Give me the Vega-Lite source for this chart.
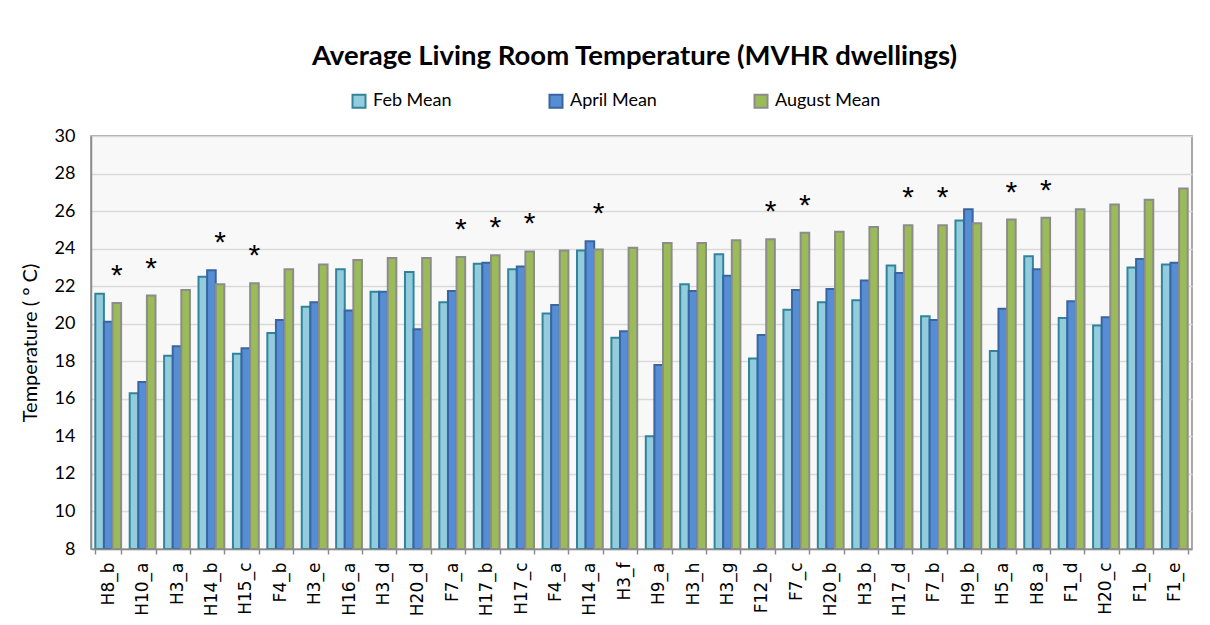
{
  "$schema": "https://vega.github.io/schema/vega-lite/v6.json",
  "width": 1101,
  "height": 413,
  "autosize": {"type": "none"},
  "padding": {"left": 91, "top": 136, "right": 18, "bottom": 76},
  "background": "white",
  "title": {
    "text": "Average Living Room Temperature (MVHR dwellings)",
    "font": "Lato",
    "fontSize": 27.5,
    "fontWeight": "bold",
    "color": "#000000",
    "anchor": "middle",
    "offset": 22,
    "dx": -7
  },
  "data": {
    "values": [
      {"dwelling": "H8_b", "Feb Mean": 21.6, "April Mean": 20.1, "August Mean": 21.1, "sig": true},
      {"dwelling": "H10_a", "Feb Mean": 16.3, "April Mean": 16.9, "August Mean": 21.5, "sig": true},
      {"dwelling": "H3_a", "Feb Mean": 18.3, "April Mean": 18.8, "August Mean": 21.8, "sig": false},
      {"dwelling": "H14_b", "Feb Mean": 22.5, "April Mean": 22.85, "August Mean": 22.1, "sig": true},
      {"dwelling": "H15_c", "Feb Mean": 18.4, "April Mean": 18.7, "August Mean": 22.15, "sig": true},
      {"dwelling": "F4_b", "Feb Mean": 19.5, "April Mean": 20.2, "August Mean": 22.9, "sig": false},
      {"dwelling": "H3_e", "Feb Mean": 20.9, "April Mean": 21.15, "August Mean": 23.15, "sig": false},
      {"dwelling": "H16_a", "Feb Mean": 22.9, "April Mean": 20.7, "August Mean": 23.4, "sig": false},
      {"dwelling": "H3_d", "Feb Mean": 21.7, "April Mean": 21.7, "August Mean": 23.5, "sig": false},
      {"dwelling": "H20_d", "Feb Mean": 22.75, "April Mean": 19.7, "August Mean": 23.5, "sig": false},
      {"dwelling": "F7_a", "Feb Mean": 21.15, "April Mean": 21.75, "August Mean": 23.55, "sig": true},
      {"dwelling": "H17_b", "Feb Mean": 23.2, "April Mean": 23.25, "August Mean": 23.65, "sig": true},
      {"dwelling": "H17_c", "Feb Mean": 22.9, "April Mean": 23.05, "August Mean": 23.85, "sig": true},
      {"dwelling": "F4_a", "Feb Mean": 20.55, "April Mean": 21.0, "August Mean": 23.9, "sig": false},
      {"dwelling": "H14_a", "Feb Mean": 23.9, "April Mean": 24.4, "August Mean": 23.95, "sig": true},
      {"dwelling": "H3_f", "Feb Mean": 19.25, "April Mean": 19.6, "August Mean": 24.05, "sig": false},
      {"dwelling": "H9_a", "Feb Mean": 14.0, "April Mean": 17.8, "August Mean": 24.3, "sig": false},
      {"dwelling": "H3_h", "Feb Mean": 22.1, "April Mean": 21.75, "August Mean": 24.3, "sig": false},
      {"dwelling": "H3_g", "Feb Mean": 23.7, "April Mean": 22.55, "August Mean": 24.45, "sig": false},
      {"dwelling": "F12_b", "Feb Mean": 18.15, "April Mean": 19.4, "August Mean": 24.5, "sig": true},
      {"dwelling": "F7_c", "Feb Mean": 20.75, "April Mean": 21.8, "August Mean": 24.85, "sig": true},
      {"dwelling": "H20_b", "Feb Mean": 21.15, "April Mean": 21.85, "August Mean": 24.9, "sig": false},
      {"dwelling": "H3_b", "Feb Mean": 21.25, "April Mean": 22.3, "August Mean": 25.15, "sig": false},
      {"dwelling": "H17_d", "Feb Mean": 23.1, "April Mean": 22.7, "August Mean": 25.25, "sig": true},
      {"dwelling": "F7_b", "Feb Mean": 20.4, "April Mean": 20.2, "August Mean": 25.25, "sig": true},
      {"dwelling": "H9_b", "Feb Mean": 25.5, "April Mean": 26.1, "August Mean": 25.35, "sig": false},
      {"dwelling": "H5_a", "Feb Mean": 18.55, "April Mean": 20.8, "August Mean": 25.55, "sig": true},
      {"dwelling": "H8_a", "Feb Mean": 23.6, "April Mean": 22.9, "August Mean": 25.65, "sig": true},
      {"dwelling": "F1_d", "Feb Mean": 20.3, "April Mean": 21.2, "August Mean": 26.1, "sig": false},
      {"dwelling": "H20_c", "Feb Mean": 19.9, "April Mean": 20.35, "August Mean": 26.35, "sig": false},
      {"dwelling": "F1_b", "Feb Mean": 23.0, "April Mean": 23.45, "August Mean": 26.6, "sig": false},
      {"dwelling": "F1_e", "Feb Mean": 23.15, "April Mean": 23.25, "August Mean": 27.2, "sig": false}
    ]
  },
  "encoding": {
    "x": {
      "field": "dwelling",
      "type": "nominal",
      "sort": null,
      "scale": {"paddingInner": 0.25, "paddingOuter": 0.125},
      "axis": {
        "title": null,
        "labelAngle": -90,
        "labelAlign": "right",
        "labelBaseline": "middle",
        "labelFont": "DejaVu Sans",
        "labelFontSize": 17,
        "labelColor": "#000000",
        "labelPadding": 8,
        "tickBand": "extent",
        "tickSize": 5,
        "tickColor": "#8c8c8c",
        "tickWidth": 1.5,
        "domainColor": "#8c8c8c",
        "domainWidth": 1.5,
        "grid": false,
        "zindex": 1
      }
    }
  },
  "layer": [
    {
      "transform": [
        {"fold": ["Feb Mean", "April Mean", "August Mean"], "as": ["series", "temp"]}
      ],
      "mark": {"type": "bar", "strokeWidth": 2, "clip": true},
      "encoding": {
        "xOffset": {
          "field": "series",
          "type": "nominal",
          "sort": ["Feb Mean", "April Mean", "August Mean"],
          "scale": {"paddingInner": 0, "paddingOuter": 0}
        },
        "y": {
          "field": "temp",
          "type": "quantitative",
          "scale": {"domain": [8, 30], "zero": false, "nice": false},
          "axis": {
            "title": "Temperature ( ° C)",
            "titleFont": "Lato",
            "titleFontSize": 20,
            "titleFontWeight": "normal",
            "titleColor": "#000000",
            "titlePadding": 14,
            "values": [8, 10, 12, 14, 16, 18, 20, 22, 24, 26, 28, 30],
            "labelOverlap": false,
            "labelFont": "Lato",
            "labelFontSize": 18,
            "labelColor": "#000000",
            "labelPadding": 16,
            "ticks": false,
            "domainColor": "#8c8c8c",
            "domainWidth": 1.5,
            "gridColor": "#d9d9d9",
            "gridWidth": 1.5
          }
        },
        "y2": {"datum": 8},
        "fill": {
          "field": "series",
          "type": "nominal",
          "sort": ["Feb Mean", "April Mean", "August Mean"],
          "scale": {
            "domain": ["Feb Mean", "April Mean", "August Mean"],
            "range": ["#93cddd", "#558ed5", "#9bbb59"]
          },
          "legend": {
            "title": null,
            "orient": "none",
            "direction": "horizontal",
            "legendX": 259,
            "legendY": -44,
            "symbolType": "square",
            "symbolSize": 169,
            "symbolStrokeWidth": 2,
            "labelFont": "Lato",
            "labelFontSize": 18,
            "labelColor": "#000000",
            "labelOffset": 5,
            "columnPadding": 93,
            "padding": 0
          }
        },
        "stroke": {
          "field": "series",
          "type": "nominal",
          "sort": ["Feb Mean", "April Mean", "August Mean"],
          "scale": {
            "domain": ["Feb Mean", "April Mean", "August Mean"],
            "range": ["#31849b", "#3a65a0", "#8c8c8c"]
          },
          "legend": {
            "title": null,
            "orient": "none",
            "direction": "horizontal",
            "legendX": 259,
            "legendY": -44,
            "symbolType": "square",
            "symbolSize": 169,
            "symbolStrokeWidth": 2,
            "labelFont": "Lato",
            "labelFontSize": 18,
            "labelColor": "#000000",
            "labelOffset": 5,
            "columnPadding": 93,
            "padding": 0
          }
        }
      }
    },
    {
      "transform": [
        {"filter": "datum.sig"},
        {"calculate": "max(datum['April Mean'], datum['August Mean'])", "as": "top"}
      ],
      "mark": {"type": "text", "text": "*", "font": "Liberation Sans", "fontSize": 30, "baseline": "alphabetic", "align": "center", "dy": -18, "color": "#000000"},
      "encoding": {
        "xOffset": {"datum": "August Mean"},
        "y": {
          "field": "top",
          "type": "quantitative",
          "axis": {
            "title": "Temperature ( ° C)",
            "titleFont": "Lato",
            "titleFontSize": 20,
            "titleFontWeight": "normal",
            "titleColor": "#000000",
            "titlePadding": 14,
            "values": [8, 10, 12, 14, 16, 18, 20, 22, 24, 26, 28, 30],
            "labelOverlap": false,
            "labelFont": "Lato",
            "labelFontSize": 18,
            "labelColor": "#000000",
            "labelPadding": 16,
            "ticks": false,
            "domainColor": "#8c8c8c",
            "domainWidth": 1.5,
            "gridColor": "#d9d9d9",
            "gridWidth": 1.5
          }
        }
      }
    }
  ],
  "config": {
    "view": {"fill": "#f8f8f8", "stroke": "#8c8c8c", "strokeWidth": 1.5}
  }
}
